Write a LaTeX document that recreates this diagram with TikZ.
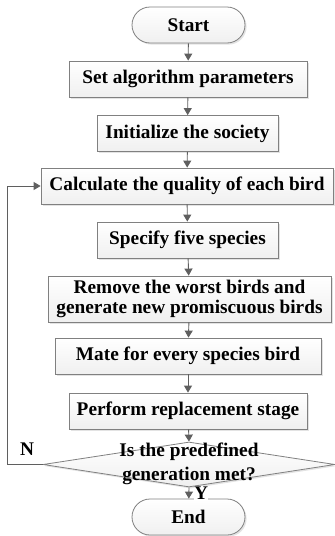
\documentclass[tikz,border=0pt]{standalone}
\usepackage{fontspec}
\setmainfont{Liberation Serif}
\usetikzlibrary{shapes.geometric,shapes.misc,shadows,arrows.meta}
\definecolor{boxline}{HTML}{808080}
\definecolor{arrowc}{HTML}{5F5F5F}
\tikzset{
  box/.style={draw=boxline, line width=0.8pt, top color=white, bottom color=gray!12,
    drop shadow={opacity=0.22, shadow xshift=1.6pt, shadow yshift=-1.6pt},
    minimum height=36pt, inner sep=0pt, align=center,
    font=\bfseries\fontsize{19.3}{20.5}\selectfont},
  term/.style={box, rounded rectangle, minimum width=113pt},
  arr/.style={draw=arrowc, line width=0.9pt, -{Triangle[length=7pt,width=8pt]}},
  lbl/.style={font=\bfseries\fontsize{19.3}{20.5}\selectfont, inner sep=1pt}
}
\begin{document}
\begin{tikzpicture}[x=1pt,y=-1pt]
\useasboundingbox (0,0) rectangle (335,536);
\node[term] (start) at (188.5,25) {Start};
\node[box, minimum width=238pt] (set) at (188,79) {Set algorithm parameters};
\node[box, minimum width=181pt] (init) at (187.5,133.5) {Initialize the society};
\node[box, minimum width=292pt] (calc) at (187,186) {Calculate the quality of each bird};
\node[box, minimum width=181pt] (spec) at (187.5,240) {Specify five species};
\node[box, minimum width=283pt, minimum height=46pt] (rem) at (189.5,299) {Remove the worst birds and\\generate new promiscuous birds};
\node[box, minimum width=266pt] (mate) at (188,356) {Mate for every species bird};
\node[box, minimum width=238pt] (perf) at (188,411) {Perform replacement stage};
\node[draw=boxline, line width=0.8pt, top color=white, bottom color=gray!12,
  drop shadow={opacity=0.22, shadow xshift=1.6pt, shadow yshift=-1.6pt},
  diamond, aspect=6.5, minimum width=292pt, minimum height=45pt, inner sep=0pt] (dia) at (189,464.5) {};
\node[align=center, font=\bfseries\fontsize{19.3}{24}\selectfont, inner sep=0pt] (diat) at (189,464) {Is the predefined\\generation met?};
\node[term] (end) at (188.5,517) {End};
\coordinate (lp) at (7.5,464.5);
\draw[arr] (start) -- (set);
\draw[arr] (set) -- (init);
\draw[arr] (init) -- (calc);
\draw[arr] (calc) -- (spec);
\draw[arr] (spec) -- (rem);
\draw[arr] (rem) -- (mate);
\draw[arr] (mate) -- (perf);
\draw[arr] (perf) -- (dia.north);
\draw[arr] (dia.south) -- (end);
\draw[arr] (dia.west) -- (lp) |- (calc.west);
\node[lbl] (n) at (27,449) {N};
\node[lbl, fill=white, inner sep=0.5pt] (y) at (201,493) {Y};
\end{tikzpicture}
\end{document}
